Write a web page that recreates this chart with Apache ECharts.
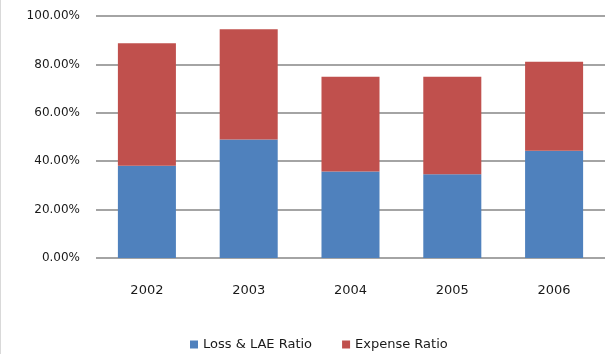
<!DOCTYPE html>
<html><head><meta charset="utf-8">
<script src="https://cdn.jsdelivr.net/npm/echarts@6/dist/echarts.min.js"></script>
<style>html,body{margin:0;padding:0;background:#fff}#c{width:605px;height:354px}</style>
</head><body><div id="c"></div>
<script>
var categories = ['2002','2003','2004','2005','2006'];
var lossRatio = [38.1, 49.0, 35.7, 34.6, 44.3];
var expenseRatio = [50.6, 45.5, 39.2, 40.3, 36.8];
var seriesNames = ['Loss & LAE Ratio', 'Expense Ratio'];
var chart = echarts.init(document.getElementById('c'));
var font = 'DejaVu Sans';
chart.setOption({
  animation: false,
  graphic: [{type:'line', shape:{x1:0.5,y1:0,x2:0.5,y2:354}, style:{stroke:'#d9d9d9', lineWidth:1}}],
  grid: {left: 96, top: 16, width: 521, height: 242},
  legend: {
    data: seriesNames, left: 185, top: 333, itemWidth: 8, itemHeight: 8, itemGap: 30,
    icon: 'rect', textStyle: {fontFamily: font, fontSize: 13, color: '#1a1a1a'}
  },
  xAxis: {
    type: 'category', data: categories,
    axisLine: {show: false}, axisTick: {show: false},
    axisLabel: {fontFamily: font, fontSize: 13, color: '#1a1a1a', margin: 26}
  },
  yAxis: {
    type: 'value', min: 0, max: 100, interval: 20,
    axisLine: {show: false}, axisTick: {show: false},
    axisLabel: {fontFamily: font, fontSize: 12, color: '#1a1a1a', margin: 16,
      formatter: function(v){ return v.toFixed(2) + '%'; }},
    splitLine: {lineStyle: {color: '#868686', width: 1.5}}
  },
  series: [
    {name: seriesNames[0], type: 'bar', stack: 's', data: lossRatio, barWidth: '57%', itemStyle: {color: '#4F81BD'}},
    {name: seriesNames[1], type: 'bar', stack: 's', data: expenseRatio, barWidth: '57%', itemStyle: {color: '#C0504D'}}
  ]
});
</script></body></html>
